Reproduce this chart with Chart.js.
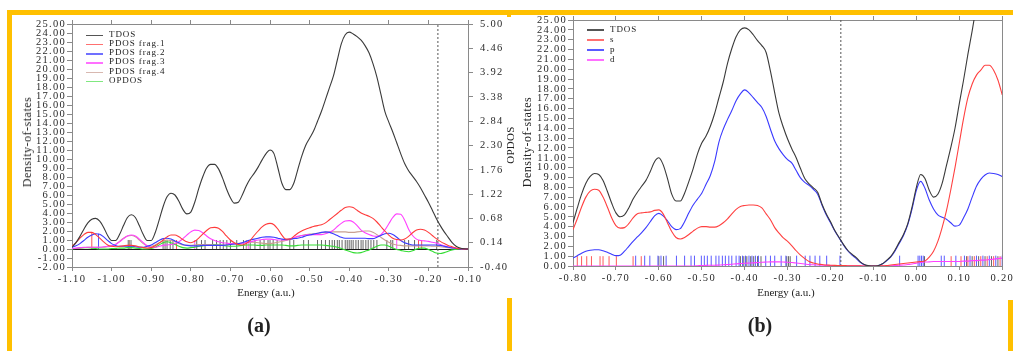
<!DOCTYPE html>
<html>
<head>
<meta charset="utf-8">
<script src="https://cdn.jsdelivr.net/npm/chart.js@4.4.1/dist/chart.umd.min.js"></script>
<style>
  html, body { margin: 0; padding: 0; background: #fff; }
  #page { position: relative; width: 1016px; height: 351px; overflow: hidden;
          font-family: "Liberation Serif", "Times New Roman", serif; color: #222; }
  .box { position: absolute; }
  .bar { position: absolute; background: #ffc000; }
  .lbl { position: absolute; white-space: nowrap; font-size: 11px; line-height: 1;
         transform: translate(-50%, -50%); }
  .rot { transform: translate(-50%, -50%) rotate(-90deg); font-size: 12px; letter-spacing: 0.5px; }
  .tag { position: absolute; font-weight: bold; font-size: 20px; line-height: 1;
         transform: translate(-50%, -50%); }
  .legend { position: absolute; font-size: 9px; letter-spacing: 0.9px; }
  .legend div { position: relative; white-space: nowrap; padding-left: 23px; }
  .legend span { position: absolute; left: 0; width: 17px; height: 1.5px; }
</style>
</head>
<body>
<div id="page">
  <div class="box" style="left:0;top:0;width:520px;height:310px"><canvas id="chartA"></canvas></div>
  <div class="box" style="left:508px;top:0;width:508px;height:310px"><canvas id="chartB"></canvas></div>

  <div class="lbl rot" style="left:27px;top:142px">Density-of-states</div>
  <div class="lbl" style="left:266px;top:292px">Energy (a.u.)</div>
  <div class="lbl rot" style="left:510px;top:145px;font-size:11px;letter-spacing:0.3px">OPDOS</div>
  <div class="tag" style="left:259px;top:325px">(a)</div>

  <div class="lbl rot" style="left:527px;top:142px">Density-of-states</div>
  <div class="lbl" style="left:786px;top:292px">Energy (a.u.)</div>
  <div class="tag" style="left:760px;top:325px">(b)</div>

  <div class="legend" id="legendA" style="left:86px;top:29.5px"></div>
  <div class="legend" id="legendB" style="left:587px;top:24px"></div>

  <div class="bar" style="left:7px;top:10px;width:1006px;height:5px"></div>
  <div class="bar" style="left:7px;top:10px;width:4.5px;height:341px"></div>
  <div class="bar" style="left:507px;top:14px;width:4px;height:3px"></div>
  <div class="bar" style="left:507px;top:298px;width:4.5px;height:53px"></div>
  <div class="bar" style="left:1008px;top:300px;width:4.5px;height:51px"></div>
</div>

<script>
// ---- panel (a): fragment DOS, energy grid -1.10 .. -0.10 a.u. ----
const energyA = [
  -1.10, -1.09, -1.08, -1.07, -1.06, -1.05, -1.04, -1.03, -1.02, -1.01,
  -1.00, -0.99, -0.98, -0.97, -0.96, -0.95, -0.94, -0.93, -0.92, -0.91,
  -0.90, -0.89, -0.88, -0.87, -0.86, -0.85, -0.84, -0.83, -0.82, -0.81,
  -0.80, -0.79, -0.78, -0.77, -0.76, -0.75, -0.74, -0.73, -0.72, -0.71,
  -0.70, -0.69, -0.68, -0.67, -0.66, -0.65, -0.64, -0.63, -0.62, -0.61,
  -0.60, -0.59, -0.58, -0.57, -0.56, -0.55, -0.54, -0.53, -0.52, -0.51,
  -0.50, -0.49, -0.48, -0.47, -0.46, -0.45, -0.44, -0.43, -0.42, -0.41,
  -0.40, -0.39, -0.38, -0.37, -0.36, -0.35, -0.34, -0.33, -0.32, -0.31,
  -0.30, -0.29, -0.28, -0.27, -0.26, -0.25, -0.24, -0.23, -0.22, -0.21,
  -0.20, -0.19, -0.18, -0.17, -0.16, -0.15, -0.14, -0.13, -0.12, -0.11,
  -0.10
];
const tdosA = [
  0.2, 0.7, 1.4, 2.2, 2.9, 3.3, 3.4, 3.1, 2.4, 1.5,
  0.95, 0.95, 1.6, 2.6, 3.5, 3.8, 3.5, 2.6, 1.6, 0.95,
  0.95, 1.8, 3.2, 4.7, 5.8, 6.2, 6.0, 5.3, 4.4, 3.9,
  4.1, 5.2, 6.7, 8.0, 9.0, 9.4, 9.4, 8.9, 7.9, 6.7,
  5.7, 5.1, 5.2, 6.0, 7.0, 7.8, 8.4, 9.1, 9.9, 10.6,
  11.0, 10.6, 9.0, 7.3, 6.6, 6.6, 7.3, 8.8, 10.3, 11.5,
  12.3, 13.1, 14.2, 15.3, 16.6, 17.9, 19.2, 21.0, 22.8, 23.8,
  24.1, 23.9, 23.6, 23.2, 22.6, 21.8, 20.6, 19.1, 17.2, 15.3,
  14.1, 13.0, 11.8, 10.6, 9.5, 8.7, 8.1, 7.5, 6.8, 6.0,
  5.2, 4.3, 3.4, 2.6, 1.9, 1.3, 0.7, 0.3, 0.1, 0.02,
  0
];
const frag1A = [
  0.3, 0.7, 1.2, 1.6, 1.85, 1.85, 1.6, 1.2, 0.8, 0.45,
  0.3, 0.25, 0.3, 0.35, 0.4, 0.4, 0.35, 0.25, 0.15, 0.1,
  0.15, 0.35, 0.65, 1.0, 1.35, 1.55, 1.55, 1.35, 1.05, 0.8,
  0.7, 0.85, 1.2, 1.65, 2.05, 2.35, 2.4, 2.3, 1.95, 1.45,
  1.0, 0.7, 0.5, 0.45, 0.6, 0.95, 1.5, 2.0, 2.45, 2.75,
  2.85, 2.7, 2.2, 1.55, 1.1, 1.1, 1.4, 1.75, 2.0, 2.2,
  2.35, 2.5, 2.6, 2.7, 2.9, 3.25, 3.6, 3.95, 4.3, 4.6,
  4.7, 4.6, 4.3, 4.0, 3.8, 3.65, 3.4, 3.0, 2.5, 2.0,
  1.55, 1.2, 1.05, 1.0, 1.1, 1.4, 1.8, 2.1, 2.2, 2.1,
  1.85, 1.5, 1.15, 0.85, 0.6, 0.4, 0.25, 0.1, 0.05, 0,
  0
];
const frag2A = [
  0.2, 0.35, 0.6, 0.95, 1.3, 1.55, 1.7, 1.65, 1.35, 0.95,
  0.6, 0.4, 0.3, 0.3, 0.3, 0.3, 0.25, 0.2, 0.2, 0.3,
  0.45, 0.7, 0.95, 1.15, 1.2, 1.1, 0.9, 0.7, 0.5, 0.4,
  0.35, 0.35, 0.35, 0.4, 0.4, 0.4, 0.4, 0.4, 0.4, 0.45,
  0.5, 0.55, 0.6, 0.7, 0.85, 1.0, 1.1, 1.2, 1.3, 1.35,
  1.35, 1.3, 1.2, 1.1, 1.05, 1.1, 1.15, 1.2, 1.3, 1.45,
  1.55, 1.65, 1.75, 1.85, 1.9, 1.85, 1.7, 1.5, 1.3, 1.2,
  1.2, 1.2, 1.2, 1.2, 1.2, 1.15, 1.15, 1.3, 1.5, 1.7,
  1.75, 1.6, 1.3, 0.95, 0.7, 0.55, 0.45, 0.45, 0.45, 0.45,
  0.45, 0.45, 0.45, 0.4, 0.3, 0.2, 0.12, 0.05, 0.02, 0,
  0
];
const frag3A = [
  0.05, 0.1, 0.15, 0.2, 0.2, 0.2, 0.2, 0.2, 0.25, 0.3,
  0.35, 0.5, 0.8, 1.15, 1.45, 1.55, 1.45, 1.1, 0.7, 0.35,
  0.2, 0.2, 0.3, 0.4, 0.45, 0.5, 0.6, 0.8, 1.15, 1.55,
  1.9, 2.1, 2.05, 1.8, 1.45, 1.15, 0.95, 0.8, 0.7, 0.65,
  0.6, 0.6, 0.6, 0.65, 0.7, 0.8, 0.9, 1.0, 1.05, 1.1,
  1.1, 1.05, 1.0, 1.0, 1.0, 1.1, 1.25, 1.4, 1.5, 1.55,
  1.6, 1.6, 1.6, 1.6, 1.7, 1.85, 2.1, 2.5, 2.85, 3.1,
  3.15, 3.0, 2.6, 2.1, 1.8, 1.6, 1.45, 1.4, 1.6, 2.1,
  2.8, 3.5, 3.9, 3.85, 3.2, 2.2, 1.5, 1.1, 0.95, 0.9,
  0.85, 0.75, 0.65, 0.5, 0.35, 0.25, 0.15, 0.08, 0.03, 0,
  0
];
const frag4A = [
  0.05, 0.05, 0.1, 0.15, 0.2, 0.2, 0.2, 0.2, 0.2, 0.25,
  0.3, 0.5, 0.85, 1.2, 1.45, 1.5, 1.35, 1.0, 0.6, 0.35,
  0.3, 0.45, 0.7, 0.9, 1.0, 0.95, 0.8, 0.6, 0.45, 0.4,
  0.4, 0.45, 0.5, 0.5, 0.5, 0.5, 0.45, 0.45, 0.45, 0.45,
  0.5, 0.55, 0.6, 0.65, 0.7, 0.75, 0.75, 0.7, 0.65, 0.6,
  0.6, 0.65, 0.75, 0.85, 0.95, 1.05, 1.2, 1.35, 1.5, 1.6,
  1.65, 1.7, 1.75, 1.8, 1.85, 1.9, 1.9, 1.9, 1.9, 1.9,
  1.85, 1.85, 1.9, 1.95, 2.0, 2.0, 1.85, 1.6, 1.3, 1.0,
  0.75, 0.55, 0.45, 0.4, 0.35, 0.35, 0.35, 0.35, 0.35, 0.35,
  0.35, 0.3, 0.3, 0.25, 0.2, 0.15, 0.1, 0.05, 0.02, 0,
  0
];
// OPDOS is read against the right-hand axis
const opdosA = [
  0, 0.01, 0.02, 0.03, 0.03, 0.02, 0.01, 0, 0, 0,
  0.01, 0.01, 0.02, 0.02, 0.03, 0.03, 0.02, 0.01, 0, 0,
  0.01, 0.04, 0.09, 0.14, 0.16, 0.14, 0.10, 0.06, 0.03, 0.02,
  0.03, 0.04, 0.06, 0.07, 0.09, 0.10, 0.10, 0.09, 0.08, 0.07,
  0.06, 0.06, 0.07, 0.08, 0.09, 0.09, 0.09, 0.08, 0.08, 0.09,
  0.09, 0.09, 0.09, 0.09, 0.08, 0.07, 0.07, 0.08, 0.09, 0.09,
  0.09, 0.09, 0.09, 0.09, 0.08, 0.07, 0.06, 0.04, 0.01, -0.02,
  -0.05, -0.08, -0.09, -0.08, -0.05, -0.02, 0.02, 0.06, 0.09, 0.09,
  0.06, 0.02, -0.01, -0.03, -0.05, -0.06, -0.04, 0.00, 0.02, 0.02,
  -0.01, -0.05, -0.09, -0.10, -0.08, -0.05, -0.02, -0.01, 0, 0,
  0
];
// eigenvalue sticks (energies) for panel (a)
const sticksGrayA = [
  -0.958, -0.951, -0.870, -0.865, -0.860, -0.852, -0.845, -0.785, -0.773, -0.764,
  -0.745, -0.735, -0.726, -0.718, -0.709, -0.700, -0.684, -0.667, -0.650, -0.638,
  -0.625, -0.615, -0.605, -0.600, -0.592, -0.582, -0.570, -0.550, -0.540, -0.515,
  -0.503, -0.480, -0.470, -0.460, -0.450, -0.443, -0.437, -0.430, -0.425, -0.418,
  -0.410, -0.405, -0.400, -0.395, -0.390, -0.383, -0.377, -0.370, -0.365, -0.358,
  -0.352, -0.345, -0.338, -0.330, -0.305, -0.295, -0.290, -0.260, -0.250, -0.235,
  -0.179
];
const sticksRedA = [-1.050, -0.836, -0.225, -0.217];
const sticksRedHA = [1.8, 1.0, 1.0, 1.0];
const sticksBlueA = [-1.033];
const sticksBlueHA = [1.7];
const sticksMagentaA = [-0.790, -0.655, -0.280];
const sticksBrownA = [-0.955, -0.660];

const xTicksA = [-1.10, -1.00, -0.90, -0.80, -0.70, -0.60, -0.50, -0.40, -0.30, -0.20, -0.10];
const opdosTicksA = [-0.40, 0.14, 0.68, 1.22, 1.76, 2.30, 2.84, 3.38, 3.92, 4.46, 5.00];
const labelsA = ['TDOS', 'PDOS frag.1', 'PDOS frag.2', 'PDOS frag.3', 'PDOS frag.4', 'OPDOS'];

// ---- panel (b): s / p / d projected DOS, energy grid -0.80 .. 0.20 a.u. ----
const energyB = [
  -0.80, -0.79, -0.78, -0.77, -0.76, -0.75, -0.74, -0.73, -0.72, -0.71,
  -0.70, -0.69, -0.68, -0.67, -0.66, -0.65, -0.64, -0.63, -0.62, -0.61,
  -0.60, -0.59, -0.58, -0.57, -0.56, -0.55, -0.54, -0.53, -0.52, -0.51,
  -0.50, -0.49, -0.48, -0.47, -0.46, -0.45, -0.44, -0.43, -0.42, -0.41,
  -0.40, -0.39, -0.38, -0.37, -0.36, -0.35, -0.34, -0.33, -0.32, -0.31,
  -0.30, -0.29, -0.28, -0.27, -0.26, -0.25, -0.24, -0.23, -0.22, -0.21,
  -0.20, -0.19, -0.18, -0.17, -0.16, -0.15, -0.14, -0.13, -0.12, -0.11,
  -0.10, -0.09, -0.08, -0.07, -0.06, -0.05, -0.04, -0.03, -0.02, -0.01,
  0.00, 0.01, 0.02, 0.03, 0.04, 0.05, 0.06, 0.07, 0.08, 0.09,
  0.10, 0.11, 0.12, 0.13, 0.14, 0.15, 0.16, 0.17, 0.18, 0.19,
  0.20
];
const tdosB = [
  4.4, 5.9, 7.3, 8.4, 9.1, 9.4, 9.3, 8.7, 7.6, 6.4,
  5.4, 5.0, 5.2, 5.9, 6.8, 7.5, 8.1, 8.7, 9.6, 10.6,
  11.0, 10.3, 8.9, 7.3, 6.6, 6.6, 7.4, 8.6, 9.9, 11.4,
  12.5, 13.2, 14.2, 15.5, 17.1, 18.7, 20.6, 22.1, 23.3, 24.0,
  24.2, 24.0, 23.5, 22.9, 22.4, 21.7, 19.8, 17.6, 15.5, 14.1,
  12.9, 11.9, 11.0, 9.9, 8.9, 8.35, 7.95, 7.5, 6.3, 5.3,
  4.5, 3.6, 2.9, 2.2, 1.6, 1.2, 0.85, 0.4, 0.13, 0.02,
  0, 0.03, 0.2, 0.55, 0.95, 1.6, 2.4, 3.2, 4.3, 6.0,
  8.0, 9.3, 8.9, 7.7, 7.0, 7.3, 8.4, 10.2, 12.0, 14.0,
  16.5, 18.9, 21.5, 23.9, 26.5, 29.0, 31.5, 34.0, 36.0, 38.0,
  40.0
];
const sB = [
  3.7, 4.8, 6.0, 7.0, 7.6, 7.8, 7.7, 7.0, 6.0, 4.9,
  4.1, 3.85, 3.9, 4.3, 4.9, 5.3, 5.4, 5.45, 5.5, 5.65,
  5.7, 5.3, 4.4, 3.5, 2.9, 2.75, 2.9, 3.2, 3.55, 3.85,
  4.0, 4.0, 3.95, 3.95, 4.1, 4.4, 4.8, 5.3, 5.75, 6.05,
  6.15, 6.2, 6.2, 6.15, 5.9, 5.3, 4.7, 3.9, 3.35, 2.85,
  2.5, 2.05, 1.55, 1.1, 0.75, 0.45, 0.3, 0.2, 0.15, 0.1,
  0.08, 0.06, 0.05, 0.04, 0.03, 0.02, 0.02, 0.01, 0, 0,
  0, 0, 0.02, 0.05, 0.1, 0.15, 0.2, 0.25, 0.3, 0.35,
  0.4, 0.45, 0.5, 0.9, 1.5, 2.5, 3.9, 5.6, 7.7, 10.0,
  12.5, 15.0, 17.1, 18.5, 19.4, 19.9, 20.4, 20.4, 19.9, 18.9,
  17.4
];
const pB = [
  0.8, 1.05, 1.3, 1.5, 1.6, 1.65, 1.65, 1.55, 1.4, 1.2,
  1.05, 1.1, 1.5, 2.0, 2.5, 2.95, 3.4, 3.9, 4.5, 5.1,
  5.35, 5.1, 4.6, 4.0, 3.7, 3.8, 4.5, 5.4, 6.2, 6.8,
  7.4, 8.3, 9.2, 10.6, 12.6, 13.9, 14.9, 15.8, 16.8, 17.5,
  17.9, 17.6, 17.1, 16.6, 16.1, 15.2, 13.9, 12.7, 11.9, 11.3,
  10.8, 10.45, 9.7, 8.95, 8.5, 8.2, 7.8, 7.3, 6.2, 5.2,
  4.4, 3.55, 2.85, 2.15, 1.55, 1.1, 0.75, 0.35, 0.1, 0.02,
  0, 0.03, 0.2, 0.5, 0.9, 1.5, 2.3, 3.1, 4.2, 5.8,
  7.7, 8.6, 7.9, 6.7, 5.8, 5.2, 4.95, 4.75, 4.4, 4.05,
  4.15, 4.9, 5.8, 7.0, 8.1, 8.8, 9.25, 9.45, 9.4, 9.3,
  9.1
];
const dB = [
  0, 0, 0, 0, 0, 0, 0, 0, 0, 0,
  0, 0, 0, 0, 0, 0, 0, 0, 0, 0,
  0, 0, 0, 0, 0, 0, 0, 0, 0, 0.02,
  0.05, 0.06, 0.08, 0.08, 0.1, 0.12, 0.15, 0.18, 0.22, 0.25,
  0.28, 0.3, 0.32, 0.35, 0.38, 0.4, 0.42, 0.42, 0.42, 0.4,
  0.38, 0.35, 0.3, 0.25, 0.2, 0.15, 0.12, 0.1, 0.08, 0.06,
  0.05, 0.04, 0.03, 0.03, 0.02, 0.02, 0.01, 0.01, 0, 0,
  0, 0, 0, 0.02, 0.03, 0.05, 0.08, 0.1, 0.15, 0.2,
  0.28, 0.35, 0.4, 0.42, 0.45, 0.45, 0.45, 0.45, 0.45, 0.45,
  0.45, 0.5, 0.5, 0.55, 0.55, 0.6, 0.6, 0.65, 0.7, 0.75,
  0.8
];
const sticksRedB = [
  -0.790, -0.780, -0.768, -0.757, -0.737, -0.730, -0.716, -0.699, -0.660, -0.641,
  0.081, 0.104, 0.120, 0.135, 0.150, 0.165, 0.180, 0.195
];
const sticksBlueB = [
  -0.654, -0.633, -0.621, -0.602, -0.595, -0.583, -0.559, -0.540, -0.525, -0.517,
  -0.501, -0.494, -0.487, -0.478, -0.467, -0.460, -0.452, -0.445, -0.437, -0.430,
  -0.420, -0.413, -0.405, -0.398, -0.390, -0.383, -0.375, -0.368, -0.351, -0.340,
  -0.330, -0.315, -0.304, -0.279, -0.259, -0.248, -0.236, -0.225, -0.209, -0.178,
  -0.039, 0.004, 0.008, 0.012, 0.016, 0.058, 0.065, 0.092, 0.112, 0.125,
  0.140, 0.155, 0.170, 0.185, 0.200
];
const sticksGrayB = [
  -0.600, -0.589, -0.410, -0.402, -0.395, -0.386, -0.379, -0.370, -0.362, -0.302,
  -0.298, -0.294, 0.019, 0.117, 0.130, 0.145, 0.160, 0.175, 0.190
];
const xTicksB = [-0.80, -0.70, -0.60, -0.50, -0.40, -0.30, -0.20, -0.10, 0.00, 0.10, 0.20];
const labelsB = ['TDOS', 's', 'p', 'd'];

const HOMO = -0.176;   // dashed Fermi/HOMO marker, both panels

// ---- styling ----
const AXIS = '#8a8a8a';
const TEXT = '#2a2a2a';
const SERIF = '"Liberation Serif", "Times New Roman", serif';
const COLORS_A = ['#3a3a3a', '#ff3b3b', '#3b3bff', '#ff40ff', '#c9a090', '#33dd33'];
const COLORS_B = ['#3a3a3a', '#ff4040', '#3a3aff', '#ff40ff'];
const LEGEND_A = ['#555', '#ff7070', '#7070ff', '#ff70ff', '#d8b8b0', '#80e880'];
const LEGEND_B = ['#555', '#ff7070', '#5a5aff', '#ff70ff'];
const STICK_GRAY = '#666';

const xy = (xs, ys) => xs.map((x, i) => ({ x, y: ys[i] }));

function stickData(energies, height) {
  const pts = [];
  energies.forEach((e, i) => {
    const h = Array.isArray(height) ? height[i] : height;
    pts.push({ x: e, y: 0 }, { x: e, y: h }, { x: e, y: null });
  });
  return pts;
}

const curve = (label, data, color, axis) => ({
  label, data, borderColor: color, backgroundColor: color,
  borderWidth: 1.1, pointRadius: 0, cubicInterpolationMode: 'monotone',
  yAxisID: axis || 'y'
});
const sticks = (data, color) => ({
  data, borderColor: color, borderWidth: 1, pointRadius: 0, tension: 0, spanGaps: false
});
const dashed = (yMin, yMax) => ({
  data: [{ x: HOMO, y: yMin }, { x: HOMO, y: yMax }],
  borderColor: '#555', borderWidth: 1, borderDash: [2, 2], pointRadius: 0, tension: 0
});

// tick labels in the reference are spaced out
const spacedText = {
  id: 'spacedText',
  beforeLayout(chart) { chart.ctx.letterSpacing = '1.3px'; },
  beforeDraw(chart) { chart.ctx.letterSpacing = '1.3px'; }
};

const fix2 = v => Number(v).toFixed(2);
const setTicks = list => scale => { scale.ticks = list.map(v => ({ value: v })); };
const tickFont = { family: SERIF, size: 10.5 };

function xAxes(min, max, list, bottomH) {
  return {
    x: {
      type: 'linear', position: 'bottom', min, max,
      afterBuildTicks: setTicks(list),
      afterFit: s => { s.height = bottomH; },
      ticks: { color: TEXT, font: tickFont, padding: 2, maxRotation: 0, minRotation: 0, autoSkip: false, callback: fix2 },
      grid: { drawOnChartArea: false, tickLength: 4, tickColor: AXIS },
      border: { color: AXIS }
    },
    x2: {
      type: 'linear', position: 'top', min, max,
      afterBuildTicks: setTicks(list),
      afterFit: s => { s.height = 0; },
      ticks: { display: false },
      grid: { drawOnChartArea: false, tickLength: 4, tickColor: AXIS },
      border: { color: AXIS }
    }
  };
}

function leftAxis(min, max, width, zeroLine) {
  return {
    position: 'left', min, max,
    afterFit: s => { s.width = width; },
    ticks: { stepSize: 1, autoSkip: false, color: TEXT, font: tickFont, padding: 1, callback: fix2 },
    grid: {
      drawOnChartArea: zeroLine, tickLength: 5, tickColor: AXIS,
      color: ctx => (ctx.tick && ctx.tick.value === 0) ? '#1a1a1a' : 'rgba(0,0,0,0)'
    },
    border: { color: AXIS }
  };
}

const baseOptions = (padTop, scales) => ({
  responsive: true, maintainAspectRatio: false, animation: false,
  layout: { padding: { top: padTop, left: 0, right: 0, bottom: 0 } },
  plugins: { legend: { display: false }, tooltip: { enabled: false } },
  scales
});

// ---- chart (a) ----
const dsA = [tdosA, frag1A, frag2A, frag3A, frag4A];
new Chart(document.getElementById('chartA'), {
  type: 'line',
  data: {
    datasets: [
      ...dsA.map((vals, i) => curve(labelsA[i], xy(energyA, vals), COLORS_A[i])),
      curve(labelsA[5], xy(energyA, opdosA), COLORS_A[5], 'y2'),
      dashed(-2, 25),
      sticks(stickData(sticksRedA, sticksRedHA), '#ff5050'),
      sticks(stickData(sticksBlueA, sticksBlueHA), '#5050ff'),
      sticks(stickData(sticksMagentaA, 1.0), '#ff50ff'),
      sticks(stickData(sticksBrownA, 1.0), '#b08878'),
      sticks(stickData(sticksGrayA, 1.0), STICK_GRAY)
    ]
  },
  options: baseOptions(24, {
    ...xAxes(-1.10, -0.10, xTicksA, 43),
    y: leftAxis(-2, 25, 72, true),
    y2: {
      position: 'right', min: -0.40, max: 5.00,
      afterBuildTicks: setTicks(opdosTicksA),
      afterFit: s => { s.width = 52; },
      ticks: { autoSkip: false, color: TEXT, font: tickFont, padding: 7, callback: fix2 },
      grid: { drawOnChartArea: false, tickLength: 5, tickColor: AXIS },
      border: { color: AXIS }
    }
  }),
  plugins: [spacedText]
});

// ---- chart (b) ----
const dsB = [tdosB, sB, pB, dB];
new Chart(document.getElementById('chartB'), {
  type: 'line',
  data: {
    datasets: [
      ...dsB.map((vals, i) => curve(labelsB[i], xy(energyB, vals), COLORS_B[i])),
      dashed(0, 25),
      sticks(stickData(sticksRedB, 1.0), '#ff5a5a'),
      sticks(stickData(sticksBlueB, 1.05), '#5a5aff'),
      sticks(stickData(sticksGrayB, 1.0), STICK_GRAY)
    ]
  },
  options: baseOptions(20, {
    ...xAxes(-0.80, 0.20, xTicksB, 44),
    y: leftAxis(0, 25, 65, false),
    y2: {
      position: 'right', min: 0, max: 25,
      afterFit: s => { s.width = 12; },
      ticks: { display: false },
      grid: { drawOnChartArea: false, drawTicks: false },
      border: { color: AXIS }
    }
  }),
  plugins: [spacedText]
});

// ---- HTML legends (inside the plot, top-left) ----
function buildLegend(id, labels, colors, rowH) {
  const el = document.getElementById(id);
  labels.forEach((txt, i) => {
    const row = document.createElement('div');
    row.style.height = rowH + 'px';
    row.style.lineHeight = rowH + 'px';
    const line = document.createElement('span');
    line.style.background = colors[i];
    line.style.top = Math.round(rowH / 2) + 'px';
    row.appendChild(line);
    row.appendChild(document.createTextNode(txt));
    el.appendChild(row);
  });
}
buildLegend('legendA', labelsA, LEGEND_A, 9.3);
buildLegend('legendB', labelsB, LEGEND_B, 10.1);
</script>
</body>
</html>
